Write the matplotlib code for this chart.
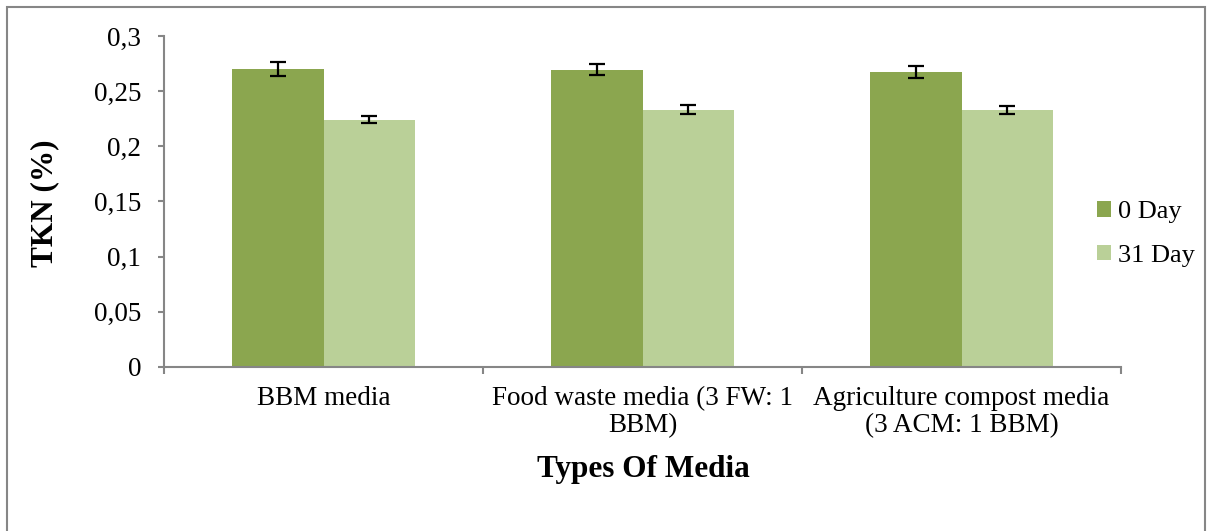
import matplotlib
matplotlib.use("Agg")
import matplotlib.pyplot as plt
import numpy as np
from matplotlib.patches import Rectangle
from matplotlib.ticker import FixedLocator, FuncFormatter

# data
categories = ["BBM media", "Food waste media (3 FW: 1\nBBM)", "Agriculture compost media\n(3 ACM: 1 BBM)"]
day0 = [0.270, 0.2695, 0.267]
day0_err = [0.0066, 0.005, 0.0054]
day31 = [0.2243, 0.2333, 0.2327]
day31_err = [0.0028, 0.0042, 0.0036]
series_names = ["0 Day", "31 Day"]
yticks = [0, 0.05, 0.1, 0.15, 0.2, 0.25, 0.3]

W, H = 1209, 531
plt.rcParams['font.family'] = ['Liberation Serif', 'DejaVu Serif']

fig = plt.figure(figsize=(W / 100, H / 100), dpi=100)
ax = fig.add_axes([164 / W, 1 - 367 / H, (1121 - 164) / W, (367 - 36) / H])

x = np.arange(len(categories))
bw = 0.288
gray = '#868686'
ekw = dict(ecolor='black', elinewidth=1.6, capsize=6, capthick=1.6)
b0 = ax.bar(x - bw / 2, day0, bw, color='#8BA64F', label=series_names[0], yerr=day0_err, error_kw=ekw)
b1 = ax.bar(x + bw / 2, day31, bw, color='#BAD098', label=series_names[1], yerr=day31_err, error_kw=ekw)

ax.set_xlim(-0.5, len(categories) - 0.5)
ax.set_ylim(0, 0.3)

# category boundaries as tick marks, labels in the middle
ax.xaxis.set_major_locator(FixedLocator(np.arange(-0.5, len(categories), 1.0)))
ax.xaxis.set_major_formatter(FuncFormatter(lambda v, p: ""))
ax.xaxis.set_minor_locator(FixedLocator(x))
ax.set_xticklabels(categories, minor=True, fontsize=19.5, linespacing=1.1)
ax.tick_params(axis='x', which='major', length=5, width=1.5, color=gray, direction='out')
ax.tick_params(axis='x', which='minor', length=0, pad=14)

ax.set_yticks(yticks)
ax.yaxis.set_major_formatter(FuncFormatter(lambda v, p: ("%g" % v).replace('.', ',')))
ax.tick_params(axis='y', length=4.5, width=1.5, color=gray, direction='out', labelsize=19.5, pad=12)

for side in ['top', 'right']:
    ax.spines[side].set_visible(False)
for side in ['left', 'bottom']:
    ax.spines[side].set_color(gray)
    ax.spines[side].set_linewidth(1.5)

fig.text(45 / W, 1 - 203 / H, "TKN (%)", rotation=90, ha='center', va='center',
         fontsize=22.5, fontweight='bold')
fig.text(643 / W, 1 - 470 / H, "Types Of Media", ha='center', va='center',
         fontsize=22.5, fontweight='bold')

fig.legend(handles=[b0, b1], labels=series_names, loc='center left',
           bbox_to_anchor=(1073 / W, 1 - 234 / H), frameon=False, fontsize=19,
           handlelength=0.55, handleheight=0.55, handletextpad=0.25, labelspacing=0.8)

# outer chart border
fig.patches.append(Rectangle((7 / W, -0.02), (1205 - 7) / W, 1 - 7 / H + 0.02,
                             transform=fig.transFigure, fill=False, edgecolor=gray, linewidth=1.5))

fig.savefig("out.png", dpi=100)
